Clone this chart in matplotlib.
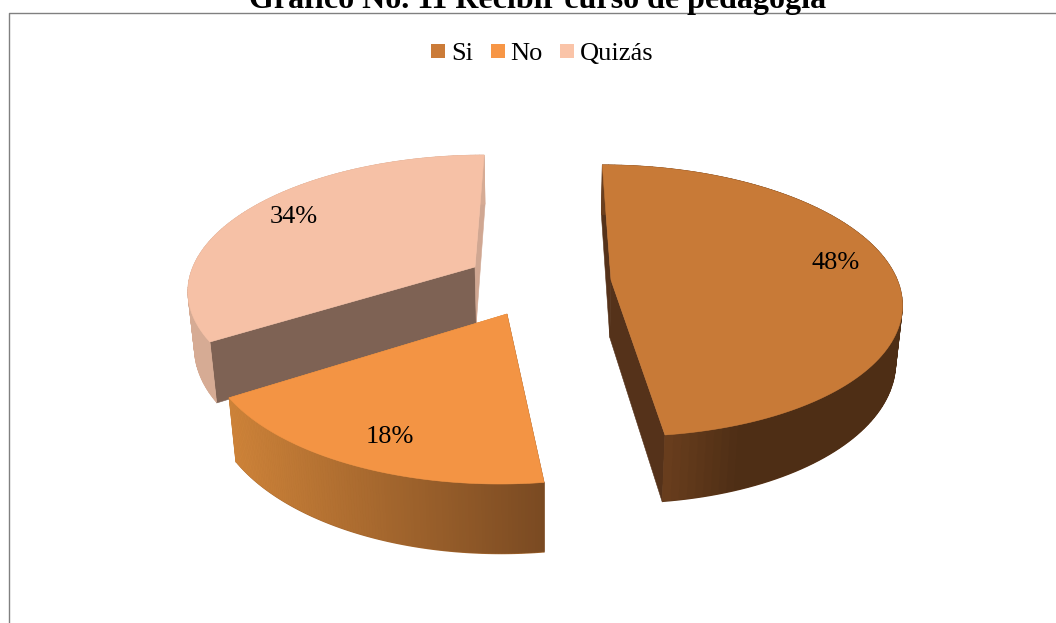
import numpy as np
import matplotlib
matplotlib.use("Agg")
import matplotlib.pyplot as plt
from matplotlib.collections import PolyCollection
from matplotlib.patches import Polygon, Rectangle

# ---- data ----
categories = ["Si", "No", "Quizás"]
values = [48, 18, 34]
title = "Gráfico No. 11 Recibir curso de pedagogía"

# ---- style ----
top_colors = ["#C87A37", "#F39444", "#F6C1A6"]
first_edge_colors = ["#55321A", "#7A4A24", "#7E6254"]
last_edge_colors = ["#55321A", "#CE8339", "#D0A792"]
rim_left = ["#6B3F1E", "#CE8339", "#D6AB94"]
rim_right = ["#4E2E15", "#7A4A22", "#D6AB94"]
legend_colors = ["#CB7B38", "#F79646", "#FAC4A8"]
apex_px = [(611, 280), (507, 314), (475, 267)]
label_px = [(836, 263), (390, 437), (294, 217)]
legend_marker_x = [431, 491, 560]
legend_text_x = [451, 510, 580]
draw_order = [0, 2, 1]
serif = "Liberation Serif"

# ---- projection of the pie plane onto the picture (pixels) ----
X_C, Y_C, RX, RY, F = 545.0, 291.0, 290.0, 136.0, 6.5
VP = np.array([545.0, 3400.0])


def project(X, Y):
    s = F / (F + Y)
    return np.column_stack([X_C + RX * X * s, Y_C - RY * Y * s])


def unproject(x, y):
    u = (Y_C - y) / RY
    Y = u * F / (F - u)
    s = F / (F + Y)
    return (x - X_C) / (RX * s), Y


def drop(p):
    """Lower edge of the pie wall under a point of the top surface."""
    p = np.atleast_2d(p)
    h = 40.0 + 0.0625 * p[:, 1]
    d = VP - p
    d = d / np.linalg.norm(d, axis=1, keepdims=True)
    return p + d * h[:, None]


def mix(c1, c2, t):
    a = np.array(matplotlib.colors.to_rgb(c1))
    b = np.array(matplotlib.colors.to_rgb(c2))
    return tuple(a + (b - a) * t)


fig = plt.figure(figsize=(10.56, 6.23), dpi=100)
ax = fig.add_axes([0, 0, 1, 1])
ax.set_xlim(0, 1056)
ax.set_ylim(623, 0)
ax.axis("off")

# chart frame
ax.plot([8.5, 8.5, 1056], [623, 12.5, 12.5], color="#808080", lw=1.0, zorder=1, solid_capstyle="butt")

ax.text(538, 8, title, family=serif, weight="bold", fontsize=23, ha="center", va="baseline", zorder=6)

# slices
fracs = np.array(values, dtype=float) / sum(values)
starts = 90 - 360 * np.concatenate([[0], np.cumsum(fracs)[:-1]])
ends = starts - 360 * fracs

z = 2
for i in draw_order:
    X0, Y0 = unproject(*apex_px[i])
    th = np.radians(np.linspace(starts[i], ends[i], 120))
    arc = project(X0 + np.cos(th), Y0 + np.sin(th))
    arc_low = drop(arc)
    apex = project(np.array([X0]), np.array([Y0]))
    apex_low = drop(apex)

    # radial walls
    ax.add_patch(Polygon([arc[0], apex[0], apex_low[0], arc_low[0]], closed=True,
                         fc=first_edge_colors[i], ec=first_edge_colors[i], lw=0.4, zorder=z))
    z += 1
    ax.add_patch(Polygon([arc[-1], apex[0], apex_low[0], arc_low[-1]], closed=True,
                         fc=last_edge_colors[i], ec=last_edge_colors[i], lw=0.4, zorder=z))
    z += 1

    # outer wall: smooth outline first, then a left-to-right shading
    near = arc[:, 1] > apex[0, 1] - 20
    lo, hi = arc[near, 0].min(), arc[near, 0].max()
    ax.add_patch(Polygon(np.vstack([arc, arc_low[::-1]]), closed=True,
                         fc=mix(rim_left[i], rim_right[i], 0.5), ec="none", zorder=z))
    z += 1
    quads, cols = [], []
    for k in range(len(arc) - 1):
        a0, a1 = arc[k], arc[k + 1]
        b0, b1 = arc_low[k], arc_low[k + 1]
        # keep the shading just inside the lower edge, so that the edge stays smooth
        quads.append([a0, a1, a1 + (b1 - a1) * 0.985, a0 + (b0 - a0) * 0.985])
        t = np.clip((a0[0] - lo) / (hi - lo), 0, 1)
        if i == 0:
            t = min(t * 3.0, 1.0)
        cols.append(mix(rim_left[i], rim_right[i], t))
    ax.add_collection(PolyCollection(quads, facecolors=cols, edgecolors=cols, linewidths=0.5, zorder=z))
    z += 1

    # top surface
    ax.add_patch(Polygon(np.vstack([apex, arc]), closed=True,
                         fc=top_colors[i], ec=top_colors[i], lw=0.4, zorder=z))
    z += 1

# data labels
for (x, y), v in zip(label_px, values):
    ax.text(x, y, f"{v}%", family=serif, fontsize=19, ha="center", va="center", zorder=z, color="black")

# legend
for mx, tx, name, c in zip(legend_marker_x, legend_text_x, categories, legend_colors):
    ax.add_patch(Rectangle((mx, 44), 14, 14, fc=c, ec="none", zorder=z))
    ax.text(tx, 60, name, family=serif, fontsize=19, ha="left", va="baseline", zorder=z, color="black")

fig.savefig("out.png", dpi=100)
